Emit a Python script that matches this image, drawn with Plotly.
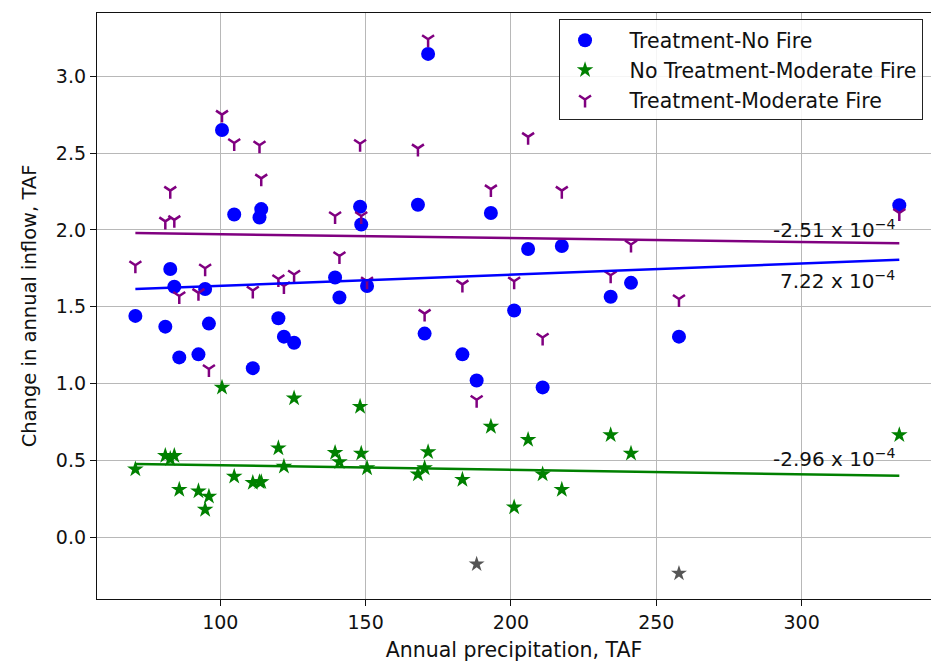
import plotly.graph_objects as go

# Annual precipitation (TAF) for each simulated year
precip = [70.8, 81.1, 82.8, 84.2, 85.9, 92.5, 94.8, 96.1, 100.6, 104.8,
          111.2, 113.5, 114.1, 120.0, 121.9, 125.4, 139.5, 141.0, 148.1, 148.5,
          150.5, 168.0, 170.3, 171.5, 183.3, 188.2, 193.1, 201.1, 205.9, 210.9,
          217.5, 234.3, 241.3, 257.8, 333.6]

# Change in annual inflow (TAF) per scenario
treat_no_fire = [1.44, 1.37, 1.745, 1.63, 1.17, 1.19, 1.615, 1.39, 2.65, 2.10,
                 1.10, 2.08, 2.135, 1.425, 1.305, 1.265, 1.69, 1.56, 2.15, 2.035,
                 1.635, 2.163, 1.325, 3.145, 1.19, 1.02, 2.11, 1.475, 1.875, 0.975,
                 1.895, 1.565, 1.655, 1.305, 2.16]

no_treat_mod_fire = [0.443, 0.53, 0.51, 0.53, 0.31, 0.30, 0.18, 0.265, 0.975, 0.395,
                     0.355, 0.36, 0.36, 0.58, 0.46, 0.905, 0.55, 0.49, 0.85, 0.545,
                     0.45, 0.41, 0.45, 0.555, 0.375, None, 0.72, 0.195, 0.635, 0.41,
                     0.31, 0.665, 0.545, None, 0.665]

treat_mod_fire = [1.77, 2.055, 2.255, 2.065, 1.57, 1.59, 1.75, 1.095, 2.75, 2.565,
                  1.605, 2.55, 2.335, 1.68, 1.635, 1.71, 2.09, 1.83, 2.56, 2.09,
                  1.665, 2.53, 1.455, 3.24, 1.645, 0.895, 2.265, 1.665, 2.605, 1.30,
                  2.255, 1.705, 1.905, 1.55, 2.11]

# Years excluded from the no-treatment fit
outlier_precip = [188.2, 257.8]
outlier_values = [-0.175, -0.235]

# Linear fits: slope, intercept
series_names = ["Treatment-No Fire", "No Treatment-Moderate Fire", "Treatment-Moderate Fire"]
slopes = [7.22e-4, -2.96e-4, -2.51e-4]
intercepts = [1.5639, 0.4980, 1.9968]
label_y = [1.676, 0.516, 2.007]

colors = ["#0000ff", "#008000", "#800080"]
FONT = "DejaVu Sans"
TXT = "#111111"
PAD = "\u00a0\u00a0\u00a0"  # extra gap between legend symbol and label

fig = go.Figure()

fig.add_trace(go.Scatter(
    x=precip, y=treat_no_fire, mode="markers", name=PAD + series_names[0],
    marker=dict(symbol="circle", size=14, color=colors[0], line=dict(width=0))))
fig.add_trace(go.Scatter(
    x=precip, y=no_treat_mod_fire, mode="markers", name=PAD + series_names[1],
    marker=dict(symbol="star", size=12.5, color=colors[1], line=dict(width=0))))
fig.add_trace(go.Scatter(
    x=precip, y=treat_mod_fire, mode="markers", name=PAD + series_names[2],
    marker=dict(symbol="y-down", size=10, color=colors[2],
                line=dict(width=2.5, color=colors[2]))))
fig.add_trace(go.Scatter(
    x=outlier_precip, y=outlier_values, mode="markers", showlegend=False,
    marker=dict(symbol="star", size=12, color="#555555", line=dict(width=0))))

x0, x1 = min(precip), max(precip)
for m, b, c, ly in zip(slopes, intercepts, colors, label_y):
    fig.add_trace(go.Scatter(
        x=[x0, x1], y=[b + m * x0, b + m * x1], mode="lines",
        line=dict(color=c, width=2.5), showlegend=False, hoverinfo="skip"))
    mant, exp = f"{m:.2e}".split("e")
    fig.add_annotation(
        x=332.8, y=ly, xref="x", yref="y", xanchor="right", yanchor="middle",
        text=f"{mant} x 10<sup>\u2212{abs(int(exp))}</sup>", showarrow=False,
        font=dict(family=FONT, size=20, color=TXT))

axis_common = dict(
    showgrid=True, gridcolor="#b8b8b8", gridwidth=1,
    zeroline=False, showline=True, linecolor="#111111", linewidth=1.3,
    ticks="outside", ticklen=6, tickcolor="#111111", tickwidth=1,
    tickfont=dict(family=FONT, size=19, color=TXT))

fig.update_xaxes(range=[57.6, 344.5], tickvals=[100, 150, 200, 250, 300],
                 mirror=True,
                 title=dict(text="Annual precipitation, TAF",
                            font=dict(family=FONT, size=20.5, color=TXT),
                            standoff=10),
                 **axis_common)
fig.update_yaxes(range=[-0.402, 3.411], tickvals=[0, 0.5, 1, 1.5, 2, 2.5, 3],
                 ticktext=["0.0", "0.5", "1.0", "1.5", "2.0", "2.5", "3.0"],
                 title=dict(text="Change in annual inflow, TAF",
                            font=dict(family=FONT, size=19.5, color=TXT),
                            standoff=14),
                 **axis_common)

fig.update_layout(
    width=931, height=664,
    margin=dict(l=97, r=0, t=13, b=65),
    paper_bgcolor="white", plot_bgcolor="white",
    font=dict(family=FONT, size=19, color=TXT),
    legend=dict(x=0.554, y=0.989, xanchor="left", yanchor="top",
                bgcolor="rgba(255,255,255,0.85)", bordercolor="#222222",
                borderwidth=1, font=dict(family=FONT, size=20.5, color=TXT),
                itemwidth=40, tracegroupgap=0),
    showlegend=True,
)

fig.write_html("out.html")
